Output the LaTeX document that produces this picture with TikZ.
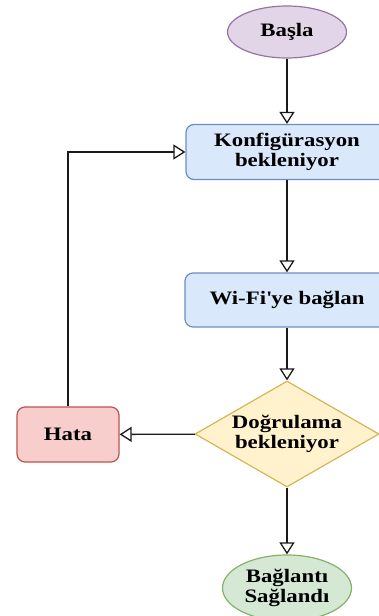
\documentclass[tikz,border=0pt]{standalone}
\usepackage{fontspec}
\setmainfont{Liberation Serif}[FakeStretch=1.2]
\usetikzlibrary{arrows.meta,shapes.geometric}
\definecolor{purpF}{HTML}{E1D5E7}\definecolor{purpD}{HTML}{9673A6}
\definecolor{blueF}{HTML}{DAE8FC}\definecolor{blueD}{HTML}{6C8EBF}
\definecolor{redF}{HTML}{F8CECC}\definecolor{redD}{HTML}{B85450}
\definecolor{yelF}{HTML}{FFF2CC}\definecolor{yelD}{HTML}{D6B656}
\definecolor{grnF}{HTML}{D5E8D4}\definecolor{grnD}{HTML}{82B366}
\definecolor{lineC}{HTML}{1A1A1A}
\tikzset{
  base/.style={font=\bfseries\fontsize{19}{20}\selectfont, align=center, inner sep=0pt, line width=1.2pt},
  oval/.style={base, ellipse},
  procbox/.style={base, rectangle, rounded corners=8pt},
  decide/.style={base, diamond, aspect=1.74},
  flow/.style={draw=lineC, line width=1.3pt, -{Triangle[open, width=15pt, length=12pt]}},
}
\begin{document}
\begin{tikzpicture}[x=1pt,y=-1pt]
\clip (0,0) rectangle (379,616);
\useasboundingbox (0,0) rectangle (379,616);
\node[oval, draw=purpD, fill=purpF, minimum width=119pt, minimum height=52pt] (start) at (287,32) {Başla};
\node[procbox, draw=blueD, fill=blueF, minimum width=202pt, minimum height=55pt] (konf) at (287,152) {Konfigürasyon\\bekleniyor};
\node[procbox, draw=blueD, fill=blueF, minimum width=204pt, minimum height=54pt] (wifi) at (287,300) {Wi-Fi\textquotesingle ye bağlan};
\node[decide, draw=yelD, fill=yelF, minimum width=184pt, minimum height=106pt] (dog) at (287,434) {Doğrulama\\bekleniyor};
\node[procbox, draw=redD, fill=redF, minimum width=102pt, minimum height=55pt] (hata) at (68,434.5) {Hata};
\node[oval, draw=grnD, fill=grnF, minimum width=129pt, minimum height=66pt] (ok) at (287,588) {Bağlantı\\Sağlandı};
\draw[flow] (start) -- (konf);
\draw[flow] (konf) -- (wifi);
\draw[flow] (wifi) -- (dog);
\draw[flow] (dog) -- (hata);
\draw[flow] (dog) -- (ok);
\draw[flow] (hata.north) |- (konf.west);
\end{tikzpicture}
\end{document}
